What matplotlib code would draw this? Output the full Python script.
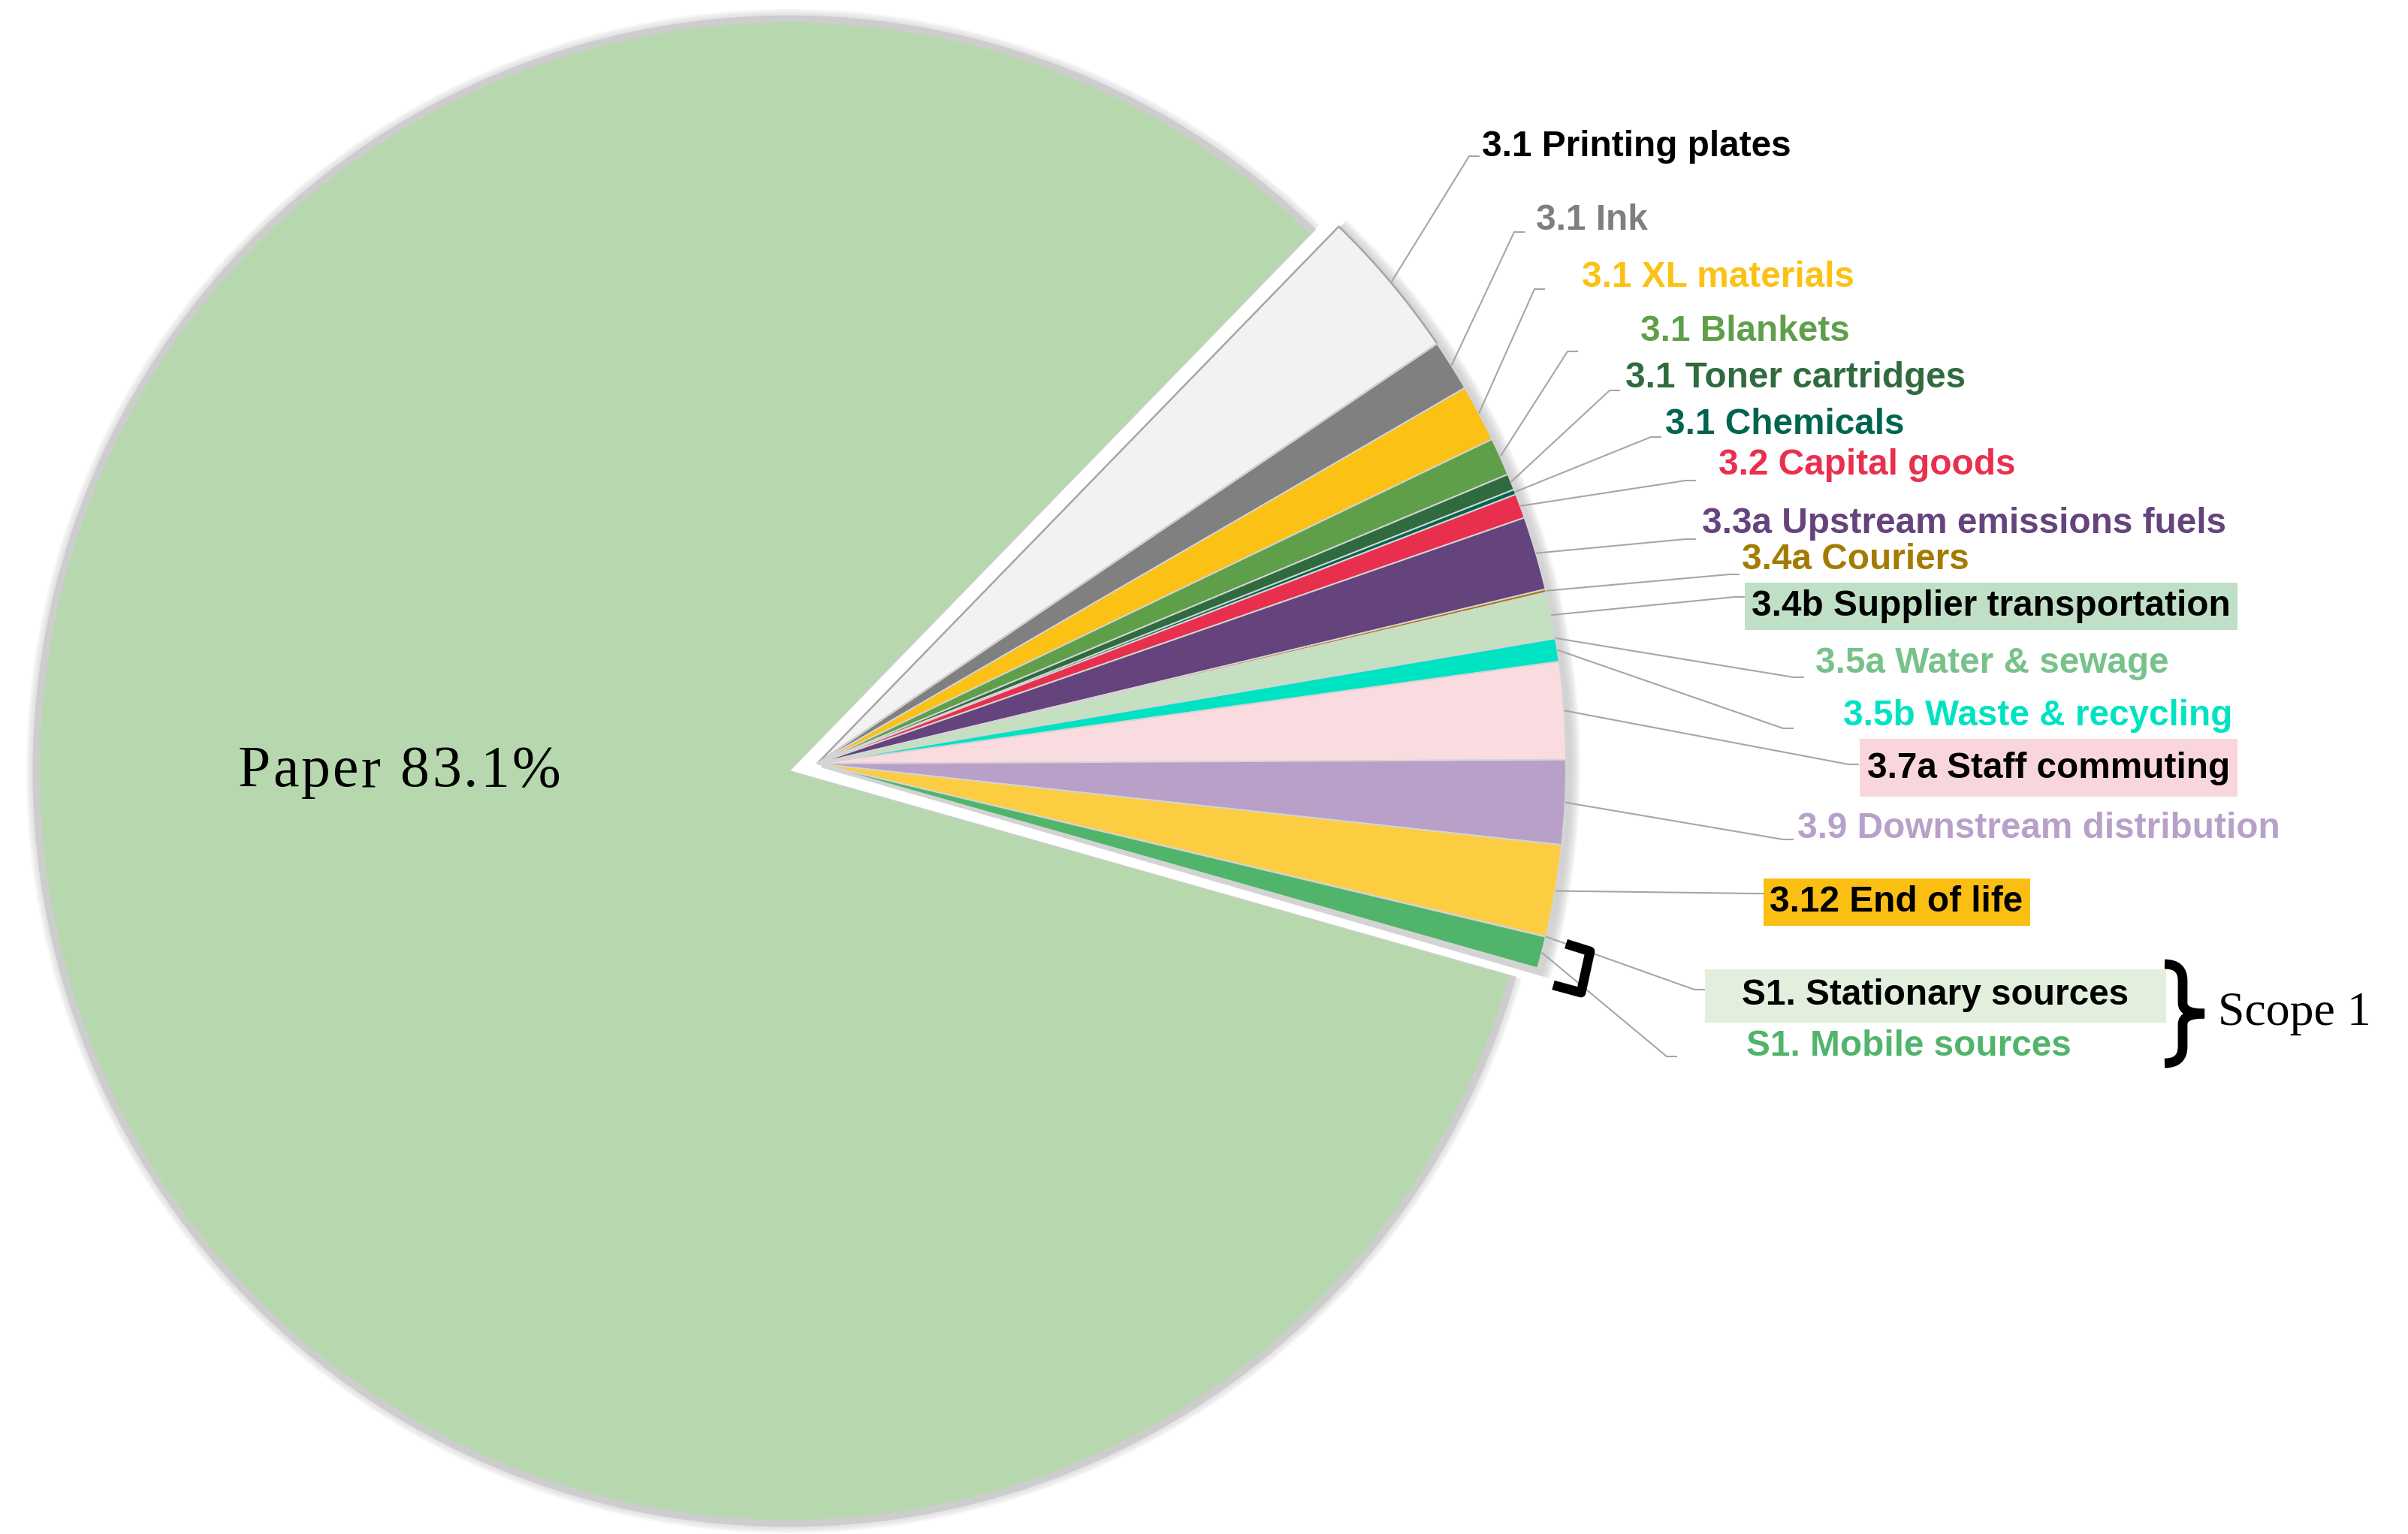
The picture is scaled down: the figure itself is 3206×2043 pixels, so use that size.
import numpy as np
import matplotlib
matplotlib.use("Agg")
import matplotlib.pyplot as plt
from matplotlib.patches import Wedge, Rectangle, PathPatch
from matplotlib.path import Path

W, H = 3206, 2043

# ---- data (percent of total footprint), clockwise from the top of the small group
categories = [
    "3.1 Printing plates", "3.1 Ink", "3.1 XL materials", "3.1 Blankets",
    "3.1 Toner cartridges", "3.1 Chemicals", "3.2 Capital goods",
    "3.3a Upstream emissions fuels", "3.4a Couriers", "3.4b Supplier transportation",
    "3.5a Water & sewage", "3.5b Waste & recycling", "3.7a Staff commuting",
    "3.9 Downstream distribution", "3.12 End of life", "S1. Stationary sources",
    "S1. Mobile sources", "Paper",
]
shares = [3.27, 1.11, 1.24, 0.82, 0.35, 0.11, 0.53, 1.59, 0.07, 0.99,
          0.01, 0.50, 2.10, 1.82, 1.98, 0.01, 0.69, 83.1]
slice_colors = [
    "#f2f2f2", "#808080", "#fbc115", "#5f9f4a", "#2f6b3f", "#00654f", "#e8304e",
    "#65437c", "#a37b00", "#c5e0c0", "#77c28a", "#00e3c2", "#f9dbe0", "#b8a0c9",
    "#fccd40", "#e2efdd", "#51b46b", "#b7d8ae",
]
label_colors = [
    "black", "#7f7f7f", "#fbc115", "#5f9f4a", "#2f6b3f", "#00654f", "#e8304e",
    "#65437c", "#a37b00", "black", "#77c28a", "#00e3c2", "black", "#b8a0c9",
    "black", "black", "#51b46b",
]
label_bg = [None, None, None, None, None, None, None, None, None, "#bfe0c6",
            None, None, "#f9d6dd", None, "#fbbf14", "#e2efdd", None]
paper_label = "Paper 83.1%"

# ---- layout (pixel coords, y measured from the top)
label_x = [1973, 2045, 2106, 2184, 2164, 2217, 2288, 2266, 2319, 2332,
           2417, 2454, 2486, 2393, 2356, 2319, 2325]
label_y = [195, 293, 369, 442, 503, 565, 619, 698, 746, 808,
           884, 953, 1023, 1103, 1202, 1326, 1393]
elbow_x = [1956, 2016, 2043, 2087, 2143, 2198, 2244, 2244, 2302, 2310,
           2388, 2374, 2461, 2374, 2335, 2256, 2219]
elbow_y = [208, 309, 385, 468, 520, 582, 640, 718, 765, 795,
           902, 970, 1018, 1118, 1190, 1318, 1407]
boxes = {9: (2323, 776, 2979, 839), 12: (2476, 984, 2979, 1061),
         14: (2348, 1170, 2703, 1233), 15: (2270, 1291, 2884, 1362)}

R = 997
paper_c = (1050, H - 1027)
small_c = (1088, H - 1017)


def Y(y):
    return H - y


fig = plt.figure(figsize=(W / 200, H / 200), dpi=200)
ax = fig.add_axes([0, 0, 1, 1])
ax.set_xlim(0, W)
ax.set_ylim(0, H)

wedges, _ = ax.pie(shares, colors=slice_colors, startangle=45.85, counterclock=False,
                   radius=R, center=small_c,
                   wedgeprops=dict(edgecolor="#d4d4d4", linewidth=0.7))
for w in wedges:
    w.set_zorder(3)
wedges[0].set_edgecolor("#a6a6a6")
wedges[0].set_linewidth(0.9)

paper = wedges[-1]
paper.set_center(paper_c)
paper.set_edgecolor("none")
paper.set_zorder(2)

# soft grey rim around the paper slice
ax.add_patch(Wedge(paper_c, R + 8, paper.theta1, paper.theta2, color="#cdcdcd", zorder=1))
for k in range(10, 20, 2):
    ax.add_patch(Wedge(paper_c, R + k, paper.theta1, paper.theta2,
                       color="#cdcdcd", alpha=0.16, lw=0, zorder=1))

# faint shadow behind the pulled-out group
g1, g2 = wedges[-2].theta1, wedges[0].theta2
for k in range(2, 16, 2):
    ax.add_patch(Wedge((small_c[0] + 5, small_c[1] - 5), R + k, g1 - 0.3, g2 + 0.3,
                       color="#bdbdbd", alpha=0.13, lw=0, zorder=2.5))

# leader lines + labels
for i, w in enumerate(wedges[:-1]):
    mid = np.deg2rad((w.theta1 + w.theta2) / 2)
    sx = small_c[0] + R * np.cos(mid)
    sy = small_c[1] + R * np.sin(mid)
    ex, ey = elbow_x[i], Y(elbow_y[i])
    ax.plot([sx, ex, ex + 14], [sy, ey, ey], color="#a6a6a6", lw=0.75, zorder=4,
            solid_capstyle="butt")
    if i in boxes:
        x0, y0, x1, y1 = boxes[i]
        ax.add_patch(Rectangle((x0, Y(y1)), x1 - x0, y1 - y0, color=label_bg[i],
                               lw=0, zorder=4.5))
    ax.text(label_x[i], Y(label_y[i]), categories[i], color=label_colors[i],
            fontsize=17.2, fontweight="bold", family=["Liberation Sans", "DejaVu Sans"],
            ha="left", va="center", zorder=5)

# paper label with a little letter spacing
renderer = fig.canvas.get_renderer()
serif = ["Liberation Serif", "DejaVu Serif"]


def advance(ch):
    a = ax.text(0, 0, "x" + ch + "x", fontsize=28, family=serif)
    b = ax.text(0, 0, "xx", fontsize=28, family=serif)
    d = a.get_window_extent(renderer).width - b.get_window_extent(renderer).width
    a.remove()
    b.remove()
    return d


x = 317
for ch in paper_label:
    if ch != " ":
        ax.text(x, Y(1022), ch, fontsize=28, family=serif, ha="left", va="baseline",
                color="black", zorder=5, transform=ax.transData)
    x += advance(ch) + 3.2
# baseline: shift so the caps sit around y=1022
for t in ax.texts[-len(paper_label.replace(" ", "")):]:
    t.set_y(Y(1022 + 25))

# small bracket at the Scope 1 slices
bx = [2085, 2117, 2105, 2068]
by = [1257, 1267, 1322, 1312]
ax.plot(bx, [Y(v) for v in by], color="black", lw=4.6, zorder=5,
        solid_joinstyle="round", solid_capstyle="butt")

# curly brace + Scope 1
x0, xm, xp = 2882, 2906, 2935
yt, ymid, yb = Y(1284), Y(1350), Y(1416)
verts = [(x0, yt), (xm, yt), (xm, yt - 22), (xm, ymid + 14), (xm, ymid), (xp, ymid),
         (xm, ymid), (xm, ymid - 14), (xm, yb + 22), (xm, yb), (x0, yb)]
codes = [Path.MOVETO, Path.CURVE3, Path.CURVE3, Path.LINETO, Path.CURVE3, Path.CURVE3,
         Path.CURVE3, Path.CURVE3, Path.LINETO, Path.CURVE3, Path.CURVE3]
ax.add_patch(PathPatch(Path(verts, codes), fill=False, lw=4.6, color="black",
                       capstyle="butt", zorder=5))
ax.text(2953, Y(1350), "Scope 1", fontsize=23, family=serif,
        ha="left", va="center", color="black", zorder=5)

ax.set_xlim(0, W)
ax.set_ylim(0, H)
ax.set_aspect("equal")
ax.axis("off")

fig.savefig("out.png", dpi=200, facecolor="white")
